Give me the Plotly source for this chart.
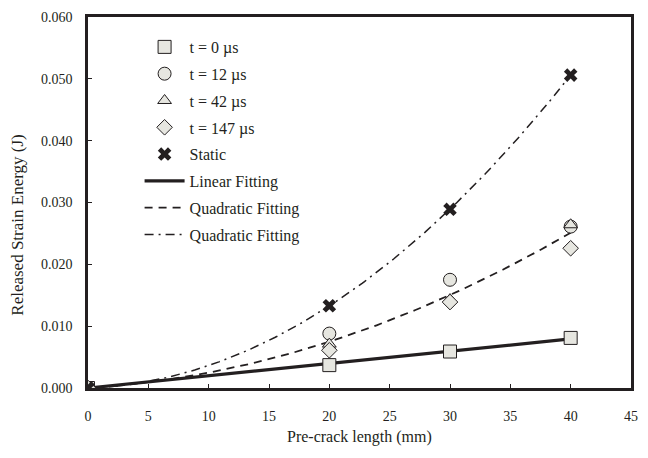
import numpy as np
import plotly.graph_objects as go

x_pts = [0, 20, 30, 40]
t0 = [0.0, 0.0037, 0.0059, 0.0081]
t12 = [0.0, 0.0088, 0.0175, 0.0261]
t42 = [0.0, 0.0071, 0.0143, 0.0264]
t147 = [0.0, 0.0061, 0.0139, 0.0226]
static = [0.0, 0.0133, 0.0289, 0.0506]

x_ticks = list(range(0, 50, 5))
y_ticks = [0.0, 0.01, 0.02, 0.03, 0.04, 0.05, 0.06]

FONT = "Liberation Serif"
DARK = "#231f20"
FILL = "#e6e6e0"

xa = np.array(x_pts, dtype=float)
xs = np.linspace(0, 40, 200)

# linear fit through origin on t=0 data
slope = np.sum(xa * np.array(t0)) / np.sum(xa * xa)
lin = slope * xs

# quadratic fits (through origin) – dynamic data and static data
def quad_fit(xv, yv):
    xv = np.asarray(xv, float); yv = np.asarray(yv, float)
    A = np.vstack([xv ** 2, xv]).T
    coef, *_ = np.linalg.lstsq(A, yv, rcond=None)
    return coef

dyn_x = np.concatenate([xa, xa, xa])
dyn_y = np.concatenate([t12, t42, t147])
qa, qb = quad_fit(dyn_x, dyn_y)
quad_dyn = qa * xs ** 2 + qb * xs
sa, sb = quad_fit(xa, static)
quad_st = sa * xs ** 2 + sb * xs

fig = go.Figure()

def mk(sym, size=12):
    return dict(symbol=sym, size=size, color=FILL, line=dict(color=DARK, width=1))

series = [
    ("t = 0 µs", t0, mk("square", 13)),
    ("t = 12 µs", t12, mk("circle", 13)),
    ("t = 42 µs", t42, mk("triangle-up", 12)),
    ("t = 147 µs", t147, mk("diamond", 12)),
]

fig.add_trace(go.Scatter(x=xs, y=lin, mode="lines", name="Linear Fitting",
                         line=dict(color=DARK, width=3.2), legendrank=6, legendgroup="g6"))
fig.add_trace(go.Scatter(x=xs, y=quad_dyn, mode="lines", name="Quadratic Fitting",
                         line=dict(color=DARK, width=1.8, dash="8px,6px"), legendrank=7, legendgroup="g7"))
fig.add_trace(go.Scatter(x=xs, y=quad_st, mode="lines", name="Quadratic Fitting",
                         line=dict(color=DARK, width=1.5, dash="9px,5px,2px,5px"), legendrank=8, legendgroup="g8"))

for i, (name, ys, m) in enumerate(series):
    fig.add_trace(go.Scatter(x=x_pts, y=ys, mode="markers", name=name, marker=m,
                             legendrank=i + 1, legendgroup=f"g{i+1}"))

fig.add_trace(go.Scatter(x=x_pts, y=static, mode="markers", name="Static",
                         marker=dict(symbol="x", size=12, color=DARK, line=dict(width=0)),
                         legendrank=5, legendgroup="g5"))

axis_common = dict(
    showline=True, linecolor=DARK, linewidth=2.5, mirror=True,
    ticks="inside", ticklen=4, tickwidth=1, tickcolor=DARK,
    showgrid=False, zeroline=False,
    tickfont=dict(family=FONT, size=14, color=DARK),
)

fig.update_layout(
    width=648, height=458,
    margin=dict(l=88, r=10, t=14, b=70),
    paper_bgcolor="white", plot_bgcolor="white",
    font=dict(family=FONT, size=14, color=DARK),
    xaxis=dict(range=[0, 45], tickvals=x_ticks, ticktext=[str(v) for v in x_ticks],
               ticklabelstandoff=13, **axis_common),
    yaxis=dict(range=[0, 0.06], tickvals=y_ticks, ticktext=[f"{v:.3f}" for v in y_ticks],
               ticklabelstandoff=10, **axis_common),
    legend=dict(x=0.095, y=0.965, xanchor="left", yanchor="top", bgcolor="rgba(0,0,0,0)",
                font=dict(family=FONT, size=16, color=DARK), tracegroupgap=3,
                traceorder="grouped", itemwidth=40),
    showlegend=True,
    annotations=[
        dict(text="Pre-crack length (mm)", xref="paper", yref="paper", x=0.5, y=-0.132,
             xanchor="center", yanchor="middle", showarrow=False,
             font=dict(family=FONT, size=16, color=DARK)),
        dict(text="Released Strain Energy (J)", xref="paper", yref="paper", x=-0.129, y=0.44,
             xanchor="center", yanchor="middle", textangle=-90, showarrow=False,
             font=dict(family=FONT, size=17, color=DARK)),
    ],
)

fig.write_html("out.html")
